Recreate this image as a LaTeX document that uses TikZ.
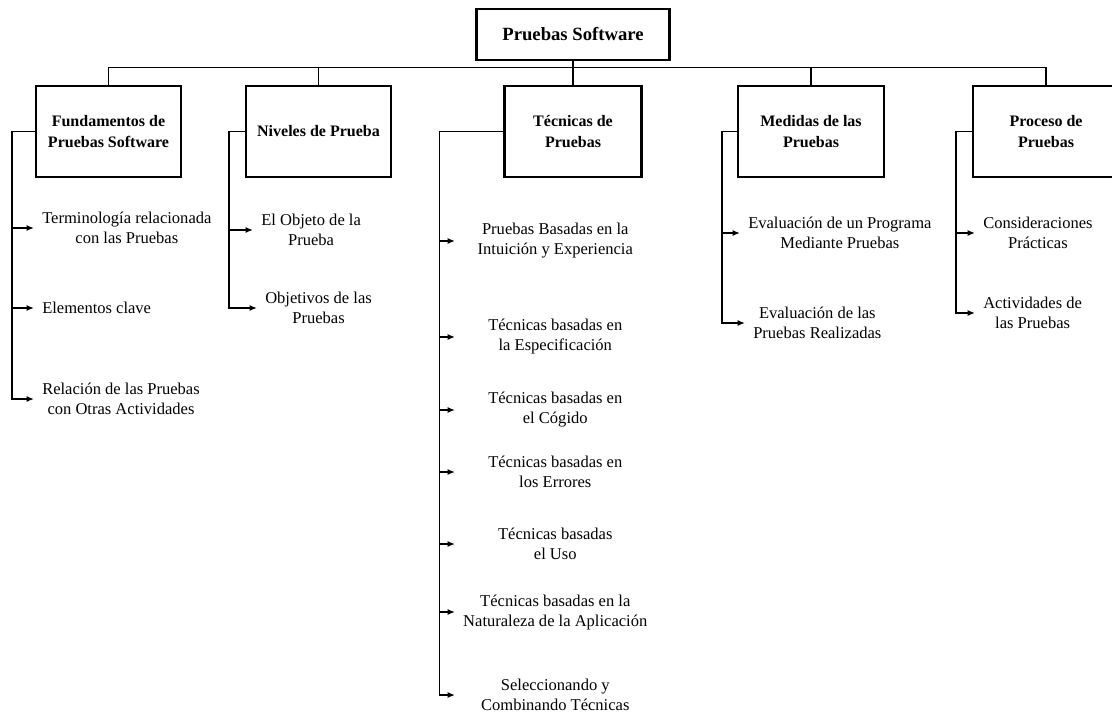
\documentclass[tikz,border=0pt]{standalone}
\usepackage{fontspec}
\setmainfont{Liberation Serif}
\usetikzlibrary{positioning,arrows.meta}

\begin{document}
\begin{tikzpicture}[x=0.75pt, y=-0.75pt, >={Latex[length=5.5pt,width=4.5pt]},
  every node/.style={font=\fontsize{12.4}{15}\selectfont},
  rootbox/.style={draw, line width=1.6pt, font=\fontsize{14}{17}\selectfont\bfseries,
    minimum width=144.75pt, minimum height=38.25pt},
  catbox/.style={draw, line width=1.6pt, align=center, font=\fontsize{12}{16}\selectfont\bfseries,
    minimum width=109pt, minimum height=68.25pt},
  item/.style={anchor=west, align=center, inner xsep=6pt, inner ysep=2pt},
  techitem/.style={anchor=west, align=center, inner xsep=0pt, minimum width=150pt},
  bus/.style={line width=0.8pt},
  spine/.style={line width=1.4pt},
  leaf/.style={line width=1.2pt, ->}]
  \useasboundingbox (0,0) rectangle (1112,722);

  % root and the five areas
  \node[rootbox] (root) at (573,34.5) {Pruebas Software};
  \node[catbox] (fund) at (108.5,131.5) {Fundamentos de\\Pruebas Software};
  \node[catbox] (niv) at (318.5,131.5) {Niveles de Prueba};
  \node[catbox, minimum width=102.75pt] (tec) at (573,131.5) {Técnicas de\\Pruebas};
  \node[catbox] (med) at (811,131.5) {Medidas de las\\Pruebas};
  \node[catbox] (proc) at (1046,131.5) {Proceso de\\Pruebas};

  \coordinate (bus) at (0,67.5);
  \draw[spine] (root.south) -- (tec.north);
  \draw[bus] (fund.north) -- (fund.north |- bus) -- (proc.north |- bus) -- (proc.north);
  \draw[bus] (niv.north) -- (niv.north |- bus);
  \draw[bus] (med.north) -- (med.north |- bus);

  % Fundamentos
  \node[item] (f1) at (34,228) {Terminología relacionada\\con las Pruebas};
  \node[item] (f2) at (34,308) {Elementos clave};
  \node[item] (f3) at (34,399) {Relación de las Pruebas\\con Otras Actividades};
  \draw[spine,->] (fund.west) -- ++(-23,0) coordinate (fs) |- (f3.west);
  \foreach \i in {f1,f2} \draw[leaf] (fs |- \i.west) -- (\i.west);

  % Niveles
  \node[item] (n1) at (253,230) {El Objeto de la\\Prueba};
  \node[item] (n2) at (257,308) {Objetivos de las\\Pruebas};
  \draw[spine,->] (niv.west) -- ++(-16,0) coordinate (ns) |- (n2.west);
  \draw[leaf] (ns |- n1.west) -- (n1.west);

  % Tecnicas
  \node[techitem] (t1) at (455,241) {Pruebas Basadas en la\\Intuición y Experiencia};
  \node[techitem] (t2) at (455,337) {Técnicas basadas en\\la Especificación};
  \node[techitem] (t3) at (455,410) {Técnicas basadas en\\el Cógido};
  \node[techitem] (t4) at (455,472) {Técnicas basadas en\\los Errores};
  \node[techitem] (t5) at (455,544) {Técnicas basadas\\el Uso};
  \node[techitem] (t6) at (455,612) {Técnicas basadas en la\\Naturaleza de la Aplicación};
  \node[techitem] (t7) at (455,695) {Seleccionando y\\Combinando Técnicas};
  \draw[spine,->] (tec.west) -- ++(-64,0) coordinate (ts) |- (t7.west);
  \foreach \i in {t1,t2,t3,t4,t5,t6} \draw[leaf] (ts |- \i.west) -- (\i.west);

  % Medidas
  \node[item] (m1) at (740,233) {Evaluación de un Programa\\Mediante Pruebas};
  \node[item] (m2) at (745,323) {Evaluación de las\\Pruebas Realizadas};
  \draw[spine,->] (med.west) -- ++(-15,0) coordinate (ms) |- (m2.west);
  \draw[leaf] (ms |- m1.west) -- (m1.west);

  % Proceso
  \node[item] (p1) at (975,233) {Consideraciones\\Prácticas};
  \node[item] (p2) at (975,313) {Actividades de\\las Pruebas};
  \draw[spine,->] (proc.west) -- ++(-16,0) coordinate (ps) |- (p2.west);
  \draw[leaf] (ps |- p1.west) -- (p1.west);
\end{tikzpicture}
\end{document}
